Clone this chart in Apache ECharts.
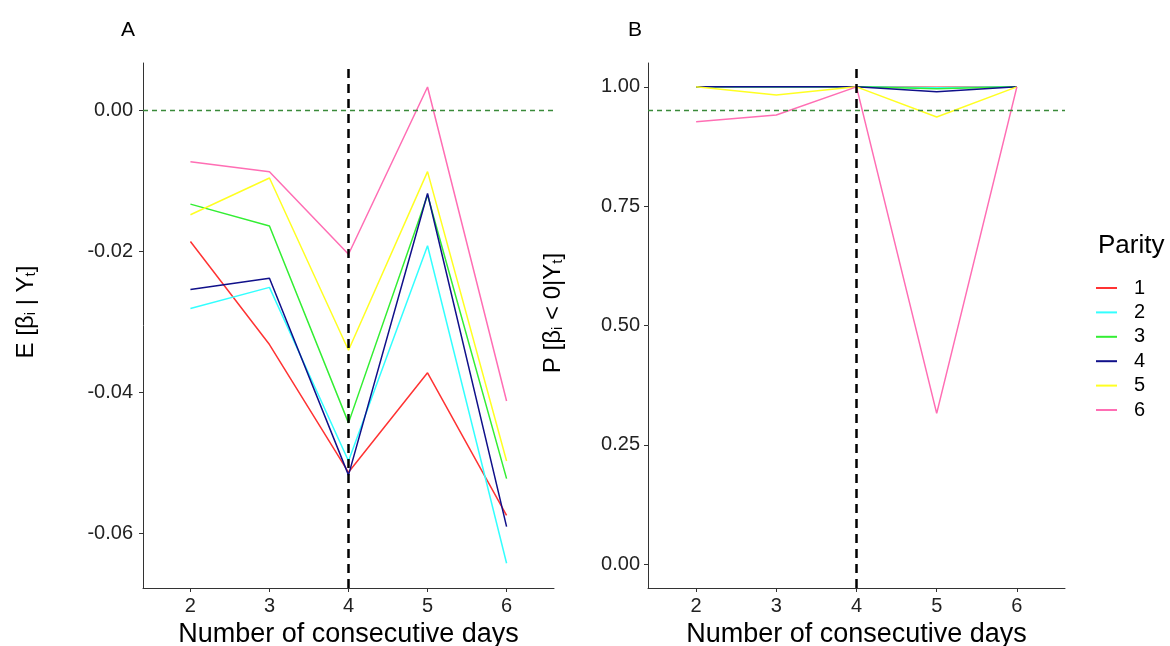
<!DOCTYPE html>
<html><head><meta charset="utf-8">
<script src="https://cdn.jsdelivr.net/npm/echarts@6/dist/echarts.min.js"></script>
<style>html,body{margin:0;padding:0;background:#fff}#c{width:1170px;height:646px}</style>
</head><body><div id="c"></div>
<script>
// ---- data ----
const days = [2, 3, 4, 5, 6];
const parities = ['1', '2', '3', '4', '5', '6'];
const ticksA = [-0.06, -0.04, -0.02, 0.00];
const ticksB = [0.00, 0.25, 0.50, 0.75, 1.00];

// Panel A: E[beta_i | Y_t]
const meanP1 = [-0.0186, -0.0332, -0.0513, -0.0372, -0.0574];
const meanP2 = [-0.0281, -0.0251, -0.0497, -0.0192, -0.0642];
const meanP3 = [-0.0133, -0.0164, -0.0443, -0.0120, -0.0522];
const meanP4 = [-0.0254, -0.0238, -0.0517, -0.0118, -0.0590];
const meanP5 = [-0.0148, -0.0096, -0.0340, -0.0087, -0.0497];
const meanP6 = [-0.0073, -0.0087, -0.0204, 0.0033, -0.0412];

// Panel B: P[beta_i < 0 | Y_t]
const probP1 = [1.000, 1.000, 1.000, 0.999, 1.000];
const probP2 = [1.000, 1.000, 1.000, 0.998, 1.000];
const probP3 = [1.000, 1.000, 1.000, 0.996, 1.000];
const probP4 = [1.000, 1.000, 1.000, 0.990, 1.000];
const probP5 = [1.000, 0.983, 1.000, 0.937, 1.000];
const probP6 = [0.927, 0.941, 1.000, 0.316, 1.000];

const refDay = 4;
const refA = 0;
const refB = 0.95;

const colors = ['#ff3333', '#33ffff', '#33ee33', '#10108a', '#ffff22', '#ff6eb4'];
const meanSets = [meanP1, meanP2, meanP3, meanP4, meanP5, meanP6];
const probSets = [probP1, probP2, probP3, probP4, probP5, probP6];

const FONT = 'Liberation Sans, Arial, sans-serif';
const pair = arr => days.map((d, i) => [d, arr[i]]);

const series = [];
parities.forEach((p, k) => {
  series.push({ name: p, type: 'line', xAxisIndex: 0, yAxisIndex: 0, data: pair(meanSets[k]),
    symbol: 'none', lineStyle: { width: 1.5, color: colors[k] }, itemStyle: { color: colors[k] } });
});
parities.forEach((p, k) => {
  series.push({ name: p, type: 'line', xAxisIndex: 1, yAxisIndex: 1, data: pair(probSets[k]),
    symbol: 'none', lineStyle: { width: 1.5, color: colors[k] }, itemStyle: { color: colors[k] } });
});
const refLines = (xi, yv) => ({
  type: 'line', xAxisIndex: xi, yAxisIndex: xi, data: [], silent: true,
  markLine: { silent: true, symbol: 'none', animation: false, label: { show: false },
    data: [
      { yAxis: yv, lineStyle: { color: '#3a8a3a', width: 1.3, type: [5, 4] } },
      { xAxis: refDay, lineStyle: { color: '#000', width: 2.5, type: [9, 6] } }
    ] }
});
series.push(refLines(0, refA));
series.push(refLines(1, refB));

const xAxisCfg = gi => ({
  type: 'value', gridIndex: gi, min: 1.4, max: 6.6,
  axisLine: { show: true, onZero: false, lineStyle: { color: '#333', width: 1 } },
  axisTick: { show: true, customValues: days, length: 4, lineStyle: { color: '#333' } },
  axisLabel: { customValues: days, fontSize: 20, color: '#222', margin: 8, fontFamily: FONT },
  splitLine: { show: false },
  name: 'Number of consecutive days', nameLocation: 'middle', nameGap: 30,
  nameTextStyle: { fontSize: 27, color: '#000', fontFamily: FONT }
});
const yAxisCfg = (gi, mn, mx, ticks, margin) => ({
  type: 'value', gridIndex: gi, min: mn, max: mx,
  axisLine: { show: true, onZero: false, lineStyle: { color: '#333', width: 1 } },
  axisTick: { show: true, customValues: ticks, length: 4, lineStyle: { color: '#333' } },
  axisLabel: { customValues: ticks, fontSize: 20, color: '#222', margin: margin, fontFamily: FONT,
    formatter: v => v.toFixed(2) },
  splitLine: { show: false }
});
const titleRich = { s: { fontSize: 15, fontFamily: FONT, fill: '#000', verticalAlign: 'bottom', lineHeight: 15 } };

const chart = echarts.init(document.getElementById('c'));
chart.setOption({
  animation: false,
  backgroundColor: '#fff',
  textStyle: { fontFamily: FONT },
  grid: [
    { left: 143, top: 63, width: 411, height: 525, containLabel: false, outerBoundsMode: 'none' },
    { left: 648, top: 63, width: 417, height: 525, containLabel: false, outerBoundsMode: 'none' }
  ],
  xAxis: [xAxisCfg(0), xAxisCfg(1)],
  yAxis: [
    yAxisCfg(0, -0.0677, 0.0067, ticksA, 10),
    yAxisCfg(1, -0.05, 1.05, ticksB, 8)
  ],
  legend: {
    data: parities, orient: 'vertical', left: 1091, top: 272,
    icon: 'rect', itemWidth: 21, itemHeight: 2, itemGap: 2.4,
    textStyle: { fontSize: 20, lineHeight: 22, color: '#000', fontFamily: FONT, padding: [0, 0, 0, 12] }
  },
  graphic: [
    { type: 'text', x: 128, y: 30, style: { text: 'A', fontSize: 21, fontFamily: FONT, fill: '#000', align: 'center', verticalAlign: 'middle' } },
    { type: 'text', x: 635, y: 30, style: { text: 'B', fontSize: 21, fontFamily: FONT, fill: '#000', align: 'center', verticalAlign: 'middle' } },
    { type: 'text', x: 1098, y: 246, style: { text: 'Parity', fontSize: 26, fontFamily: FONT, fill: '#000', align: 'left', verticalAlign: 'middle' } },
    { type: 'text', x: 26, y: 312, rotation: Math.PI / 2,
      style: { text: 'E [β{s|i} | Y{s|t}]', rich: titleRich, fontSize: 24, fontFamily: FONT, fill: '#000', align: 'center', verticalAlign: 'middle' } },
    { type: 'text', x: 553, y: 313, rotation: Math.PI / 2,
      style: { text: 'P [β{s|i} < 0|Y{s|t}]', rich: titleRich, fontSize: 24, fontFamily: FONT, fill: '#000', align: 'center', verticalAlign: 'middle' } }
  ],
  series: series
});
</script></body></html>
